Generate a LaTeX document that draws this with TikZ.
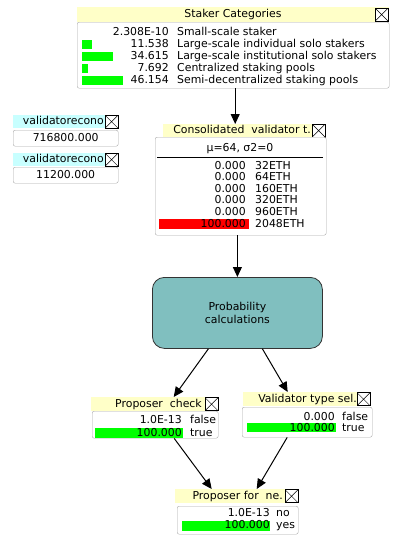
\documentclass[tikz,border=0pt]{standalone}
\usepackage{fontspec}
\setmainfont{DejaVu Sans}
\usetikzlibrary{arrows.meta}
\definecolor{titleyellow}{HTML}{FFFFC8}
\definecolor{titlecyan}{HTML}{C8FFFF}
\definecolor{barGreen}{HTML}{00FF00}
\definecolor{barRed}{HTML}{FF0000}
\definecolor{probTeal}{HTML}{80BFBF}
\definecolor{boxGray}{HTML}{A8A8A8}
\begin{document}
\begin{tikzpicture}[x=1pt,y=-1pt,
  font=\fontsize{10.9}{12}\selectfont,
  ybar/.style={fill=titleyellow, inner sep=0, anchor=north west},
  cbar/.style={fill=titlecyan, inner sep=0, anchor=north west},
  ttl/.style={inner sep=0, anchor=east, text height=8, text depth=2},
  bodybox/.style={draw=boxGray, fill=white, rounded corners=2pt, inner sep=0, anchor=north west},
  closebox/.style={draw=black, fill=white, line width=0.6pt, minimum size=12, inner sep=0, anchor=east,
    path picture={\draw[line width=0.5pt] (path picture bounding box.north west) -- (path picture bounding box.south east)
      (path picture bounding box.north east) -- (path picture bounding box.south west);}},
  val/.style={inner sep=0, anchor=east, text height=8, text depth=2},
  lab/.style={inner sep=0, anchor=west, text height=8, text depth=2},
  arr/.style={draw=black, line width=1pt, -{Triangle[length=10pt,width=9pt]}},
  probbox/.style={draw=black!80, fill=probTeal, rounded corners=12pt, line width=0.8pt,
    minimum width=170, minimum height=71, align=center, inner sep=0}
]
\useasboundingbox (0,0) rectangle (403,547);

% ---------- Staker Categories ----------
\node[ybar, minimum width=312, minimum height=15] (skT) at (77,7) {};
\node[closebox, minimum size=13] (skX) at ([xshift=-1]skT.east) {};
\node[inner sep=0, text height=8, text depth=2] (skL) at (233,14.5) {Staker Categories};
\node[bodybox, minimum width=312, minimum height=66] (skB) at (77,22) {};
\fill[barGreen] (82,39.5) rectangle (92,48.5);
\fill[barGreen] (82,51.5) rectangle (113,60.5);
\fill[barGreen] (82,63.5) rectangle (88,72.5);
\fill[barGreen] (82,75.5) rectangle (123,84.5);
\node[val] (sk1v) at (169,32) {2.308E-10};
\node[lab] (sk1l) at (177,32) {Small-scale staker};
\node[val] (sk2v) at (169,44) {11.538};
\node[lab] (sk2l) at (177,44) {Large-scale individual solo stakers};
\node[val] (sk3v) at (169,56) {34.615};
\node[lab] (sk3l) at (177,56) {Large-scale institutional solo stakers};
\node[val] (sk4v) at (169,68) {7.692};
\node[lab] (sk4l) at (177,68) {Centralized staking pools};
\node[val] (sk5v) at (169,80) {46.154};
\node[lab] (sk5l) at (177,80) {Semi-decentralized staking pools};

% ---------- validatorecono ----------
\node[cbar, minimum width=105, minimum height=13] (v1T) at (13,115) {};
\node[closebox, minimum size=13] (v1X) at (v1T.east) {};
\node[ttl] (v1L) at (104,121.5) {validatorecono};
\node[bodybox, minimum width=105, minimum height=16] (v1B) at (13,130) {};
\node[inner sep=0, text height=8, text depth=2] (v1V) at (v1B.center) {716800.000};

\node[cbar, minimum width=105, minimum height=13] (v2T) at (13,153) {};
\node[closebox, minimum size=13] (v2X) at (v2T.east) {};
\node[ttl] (v2L) at (104,159.5) {validatorecono};
\node[bodybox, minimum width=105, minimum height=16] (v2B) at (13,167) {};
\node[inner sep=0, text height=8, text depth=2] (v2V) at (v2B.center) {11200.000};

% ---------- Consolidated validator t. ----------
\node[ybar, minimum width=162, minimum height=13] (cvT) at (163,124) {};
\node[closebox, minimum size=13] (cvX) at (cvT.east) {};
\node[ttl] (cvL) at (311,130.5) {Consolidated\ \ validator t.};
\node[bodybox, minimum width=171, minimum height=98] (cvB) at (155,137) {};
\node[inner sep=0, text height=8, text depth=2] (cvM) at (240,148) {μ=64, σ2=0};
\draw[black, line width=0.8pt] (157,157) -- (323,157);
\fill[barRed] (159,219) rectangle (249,229);
\node[val] (cv1v) at (246,166) {0.000};
\node[lab] (cv1l) at (255,166) {32ETH};
\node[val] (cv2v) at (246,177.5) {0.000};
\node[lab] (cv2l) at (255,177.5) {64ETH};
\node[val] (cv3v) at (246,189) {0.000};
\node[lab] (cv3l) at (255,189) {160ETH};
\node[val] (cv4v) at (246,200.5) {0.000};
\node[lab] (cv4l) at (255,200.5) {320ETH};
\node[val] (cv5v) at (246,212) {0.000};
\node[lab] (cv5l) at (255,212) {960ETH};
\node[val] (cv6v) at (246,224) {100.000};
\node[lab] (cv6l) at (255,224) {2048ETH};

% ---------- Probability calculations ----------
\node[probbox, anchor=north west] (prob) at (152,277) {Probability\\[1pt]calculations};

% ---------- Proposer check ----------
\node[ybar, minimum width=127, minimum height=14] (pcT) at (91,397) {};
\node[closebox, minimum size=13] (pcX) at (pcT.east) {};
\node[ttl] (pcL) at (202,404) {Proposer\ \ check};
\node[bodybox, minimum width=126, minimum height=27] (pcB) at (92,411) {};
\fill[barGreen] (95,428) rectangle (183,438);
\node[val] (pc1v) at (182,420) {1.0E-13};
\node[lab] (pc1l) at (190,420) {false};
\node[val] (pc2v) at (182,433) {100.000};
\node[lab] (pc2l) at (190,433) {true};

% ---------- Validator type sel. ----------
\node[ybar, minimum width=127, minimum height=14] (vtT) at (243,392) {};
\node[closebox, minimum size=13] (vtX) at (vtT.east) {};
\node[ttl] (vtL) at (357,399) {Validator type sel.};
\node[bodybox, minimum width=130, minimum height=30] (vtB) at (242,407) {};
\fill[barGreen] (247,423) rectangle (336,432);
\node[val] (vt1v) at (335,417) {0.000};
\node[lab] (vt1l) at (342,417) {false};
\node[val] (vt2v) at (335,428) {100.000};
\node[lab] (vt2l) at (342,428) {true};

% ---------- Proposer for ne. ----------
\node[ybar, minimum width=123, minimum height=14] (pfT) at (175,489) {};
\node[closebox, minimum size=13] (pfX) at (pfT.east) {};
\node[ttl] (pfL) at (283,496) {Proposer for\ \ ne.};
\node[bodybox, minimum width=121, minimum height=28] (pfB) at (177,506) {};
\fill[barGreen] (182,521) rectangle (270,531);
\node[val] (pf1v) at (270,513) {1.0E-13};
\node[lab] (pf1l) at (276,513) {no};
\node[val] (pf2v) at (270,525) {100.000};
\node[lab] (pf2l) at (276,525) {yes};

% ---------- connectors ----------
\draw[arr] ([xshift=2]skB.south) -- ([xshift=2]skB.south |- cvT.north);
\draw[arr] (prob.north |- cvB.south) -- (prob.north);
\draw[arr] ([xshift=-29]prob.south) -- ([xshift=19]pcT.north);
\draw[arr] ([xshift=25]prob.south) -- ([xshift=-19]vtT.north);
\draw[arr] ([xshift=19]pcB.south) -- ([xshift=-25]pfT.north);
\draw[arr] ([xshift=-20]vtB.south) -- ([xshift=20]pfT.north);
\end{tikzpicture}
\end{document}
